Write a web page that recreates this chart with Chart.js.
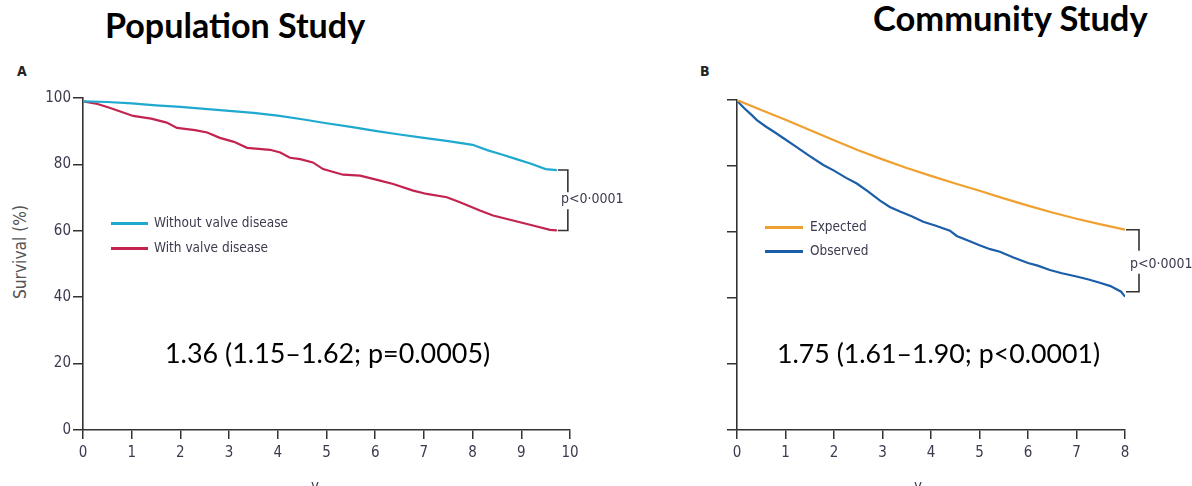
<!DOCTYPE html>
<html>
<head>
<meta charset="utf-8">
<script src="https://cdn.jsdelivr.net/npm/chart.js@4.4.1/dist/chart.umd.min.js"></script>
<style>
  html, body { margin:0; padding:0; background:#fff; }
  body { width:1192px; height:486px; overflow:hidden; position:relative; }
  .abs { position:absolute; white-space:nowrap; line-height:1; }
  .title { font-family: Lato, "Open Sans", sans-serif; font-weight:700; color:#000; font-size:27px; }
  .note { font-family: Lato, "Open Sans", sans-serif; color:#000; font-size:24px; }
  .lan { font-family: "Liberation Sans Narrow", "DejaVu Sans Condensed", sans-serif; color:#3b3b4f; }
  .leg { font-size:13.5px; }
  .sw { position:absolute; height:3px; }
  .wrap { position:absolute; }
</style>
</head>
<body>
<script>
// ---------- data ----------
const popWithoutX = [0, 0.5, 1, 1.5, 2, 2.5, 3, 3.5, 4, 4.5, 5, 5.5, 6, 6.5, 7, 7.5, 8, 8.3, 8.6, 8.9, 9.2, 9.5, 9.73];
const popWithoutY = [99, 98.8, 98.4, 97.8, 97.3, 96.7, 96.1, 95.5, 94.7, 93.6, 92.4, 91.3, 90.1, 89.0, 88.0, 87.0, 85.9, 84.3, 83.0, 81.6, 80.2, 78.6, 78.3];
const popWithX = [0, 0.3, 0.56, 1.03, 1.4, 1.72, 1.93, 2.3, 2.55, 2.81, 3.1, 3.37, 3.84, 4.05, 4.25, 4.46, 4.72, 4.93, 5.34, 5.69, 6.1, 6.37, 6.78, 7.06, 7.47, 7.74, 8.15, 8.42, 8.83, 9.24, 9.59, 9.73];
const popWithY = [99, 98.2, 97, 94.6, 93.8, 92.6, 91, 90.3, 89.6, 88, 86.8, 85, 84.4, 83.6, 82, 81.6, 80.6, 78.6, 76.9, 76.6, 75.1, 74.1, 72.1, 71.1, 70.1, 68.6, 66.1, 64.6, 63.1, 61.6, 60.3, 60.1];

const comExpectedX = [0, 0.5, 1, 1.5, 2, 2.5, 3, 3.5, 4, 4.5, 5, 5.5, 6, 6.5, 7, 7.5, 8];
const comExpectedY = [100, 97.0, 94.0, 90.9, 87.8, 84.8, 82.0, 79.4, 77.0, 74.7, 72.5, 70.2, 68.0, 65.9, 64.0, 62.3, 60.7];
const comObservedX = [0, 0.15, 0.3, 0.41, 0.6, 0.8, 0.96, 1.2, 1.5, 1.78, 2.0, 2.25, 2.47, 2.7, 2.95, 3.15, 3.36, 3.6, 3.84, 4.1, 4.39, 4.53, 4.8, 5.0, 5.22, 5.42, 5.7, 6.0, 6.2, 6.45, 6.7, 7.0, 7.25, 7.48, 7.7, 7.92, 8.0];
const comObservedY = [99.8, 97.5, 95.5, 93.9, 91.9, 90.0, 88.4, 86.0, 83.0, 80.3, 78.6, 76.4, 74.7, 72.3, 69.5, 67.6, 66.2, 64.8, 63.1, 61.9, 60.4, 58.8, 57.2, 56.0, 54.8, 54.0, 52.3, 50.6, 49.8, 48.5, 47.5, 46.5, 45.6, 44.6, 43.6, 41.9, 40.4];

const popXTicks = [0, 1, 2, 3, 4, 5, 6, 7, 8, 9, 10];
const comXTicks = [0, 1, 2, 3, 4, 5, 6, 7, 8];
const yTicks = [0, 20, 40, 60, 80, 100];

const seriesNames = ["Without valve disease", "With valve disease", "Expected", "Observed"];
const colors = { cyan:'#1fa9cf', red:'#c3234f', orange:'#f0a030', blue:'#1b5ea8', axis:'#333' };
const pText = "p<0·0001";
</script>

<div class="abs title" id="t1" style="left:105px; top:8px;">Population Study</div>
<div class="abs title" id="t2" style="left:873px; top:1px;">Community Study</div>

<div class="abs lan" style="left:17px; top:64px; font-size:14px; font-weight:bold; color:#222;">A</div>
<div class="abs lan" style="left:700px; top:64px; font-size:14px; font-weight:bold; color:#222;">B</div>

<div class="abs lan" id="ytitle" style="left:20px; top:252px; font-size:13px; color:#555; transform-origin:0 0;">Survival (%)</div>

<div class="wrap" style="left:0; top:87px; width:640px; height:399px;"><canvas id="c1"></canvas></div>
<div class="wrap" style="left:620px; top:90px; width:572px; height:396px;"><canvas id="c2"></canvas></div>

<!-- legends -->
<div class="sw" style="left:111px; top:222px; width:37px; background:#1fa9cf;"></div>
<div class="abs lan leg" id="l1" style="left:154px; top:216px;"></div>
<div class="sw" style="left:111px; top:247px; width:37px; background:#c3234f;"></div>
<div class="abs lan leg" id="l2" style="left:154px; top:241px;"></div>
<div class="sw" style="left:765px; top:226px; width:38px; background:#f0a030;"></div>
<div class="abs lan leg" id="l3" style="left:810px; top:220px;"></div>
<div class="sw" style="left:765px; top:250px; width:38px; background:#1b5ea8;"></div>
<div class="abs lan leg" id="l4" style="left:810px; top:244px;"></div>

<div class="abs lan" id="p1" style="left:561px; top:191px; font-size:14px;"></div>
<div class="abs lan" id="p2" style="left:1130px; top:256px; font-size:14px;"></div>

<div class="abs note" id="n1" style="left:165px; top:340px;">1.36 (1.15–1.62; p=0.0005)</div>
<div class="abs note" id="n2" style="left:777px; top:340px;">1.75 (1.61–1.90; p&lt;0.0001)</div>

<div class="abs lan" style="left:311px; top:479px; font-size:15px;">y</div>
<div class="abs lan" style="left:914px; top:479px; font-size:15px;">y</div>

<script>
function fit(id, w) {
  const el = document.getElementById(id);
  const cur = el.offsetWidth;
  const fs = parseFloat(getComputedStyle(el).fontSize);
  el.style.fontSize = (fs * w / cur).toFixed(2) + 'px';
}
document.getElementById('l1').textContent = seriesNames[0];
document.getElementById('l2').textContent = seriesNames[1];
document.getElementById('l3').textContent = seriesNames[2];
document.getElementById('l4').textContent = seriesNames[3];
document.getElementById('p1').textContent = pText;
document.getElementById('p2').textContent = pText;
fit('t1', 260); fit('t2', 275);
fit('n1', 325); fit('n2', 323);
fit('ytitle', 94);
const yt = document.getElementById('ytitle');
yt.style.transform = 'rotate(-90deg) translate(' + (-yt.offsetWidth/2) + 'px,' + (-yt.offsetHeight/2) + 'px)';

function pts(xs, ys) { return xs.map((x, i) => ({ x: x, y: ys[i] })); }

const tickFont = { family: '"Liberation Sans Narrow", "DejaVu Sans Condensed", sans-serif', size: 15 };

function bracketPlugin(topSeries, botSeries, dx, gapTop, gapBot) {
  return {
    id: 'bracket',
    afterDraw(chart) {
      const xs = chart.scales.x, ys = chart.scales.y, ctx = chart.ctx;
      const tX = topSeries.x[topSeries.x.length - 1], tY = topSeries.y[topSeries.y.length - 1];
      const bX = botSeries.x[botSeries.x.length - 1], bY = botSeries.y[botSeries.y.length - 2];
      const x0 = Math.max(xs.getPixelForValue(tX), xs.getPixelForValue(bX)) + 1;
      const x1 = x0 + dx;
      const y0 = ys.getPixelForValue(tY), y1 = ys.getPixelForValue(bY);
      const ym = (y0 + y1) / 2;
      ctx.save();
      ctx.strokeStyle = '#333';
      ctx.lineWidth = 1.6;
      ctx.beginPath();
      ctx.moveTo(x0, y0); ctx.lineTo(x1, y0); ctx.lineTo(x1, ym - gapTop);
      ctx.moveTo(x1, ym + gapBot); ctx.lineTo(x1, y1); ctx.lineTo(x0, y1);
      ctx.stroke();
      ctx.restore();
    }
  };
}

function makeChart(id, datasets, xmax, xticks, showYLabels, yWidth, padRight, plugin) {
  return new Chart(document.getElementById(id), {
    type: 'line',
    data: { datasets: datasets },
    options: {
      responsive: true, maintainAspectRatio: false, animation: false,
      layout: { padding: { top: 10, right: padRight, left: 0, bottom: 0 } },
      plugins: { legend: { display: false }, tooltip: { enabled: false } },
      elements: { point: { radius: 0 }, line: { tension: 0, borderWidth: 2 } },
      scales: {
        x: {
          type: 'linear', min: 0, max: xmax,
          afterBuildTicks: s => { s.ticks = xticks.map(v => ({ value: v })); },
          afterFit: s => { s.height = 56; },
          ticks: { font: tickFont, color: '#3b3b4f', padding: 5, maxRotation: 0 },
          grid: { display: true, drawOnChartArea: false, drawTicks: true, tickLength: 9, color: colors.axis, lineWidth: 1.5 },
          border: { display: true, color: colors.axis, width: 1.6 }
        },
        y: {
          type: 'linear', min: 0, max: 100,
          afterBuildTicks: s => { s.ticks = yTicks.map(v => ({ value: v })); },
          afterFit: s => { s.width = yWidth; },
          ticks: { display: showYLabels, font: tickFont, color: '#3b3b4f', padding: 2 },
          grid: { display: true, drawOnChartArea: false, drawTicks: true, tickLength: 10, color: colors.axis, lineWidth: 1.5 },
          border: { display: true, color: colors.axis, width: 1.6 }
        }
      }
    },
    plugins: [plugin]
  });
}

makeChart('c1', [
  { label: seriesNames[0], data: pts(popWithoutX, popWithoutY), borderColor: colors.cyan, borderWidth: 2.2 },
  { label: seriesNames[1], data: pts(popWithX, popWithY), borderColor: colors.red, borderWidth: 2.2 }
], 10, popXTicks, true, 83, 70,
  bracketPlugin({ x: popWithoutX, y: popWithoutY }, { x: popWithX, y: popWithY.concat([popWithY[popWithY.length-1]]) }, 10, 8, 9));

makeChart('c2', [
  { label: seriesNames[2], data: pts(comExpectedX, comExpectedY), borderColor: colors.orange, borderWidth: 2.2 },
  { label: seriesNames[3], data: pts(comObservedX, comObservedY), borderColor: colors.blue, borderWidth: 2.2 }
], 8, comXTicks, false, 117, 67,
  bracketPlugin({ x: comExpectedX, y: comExpectedY }, { x: comObservedX, y: comObservedY }, 13, 10, 13));
</script>
</body>
</html>
